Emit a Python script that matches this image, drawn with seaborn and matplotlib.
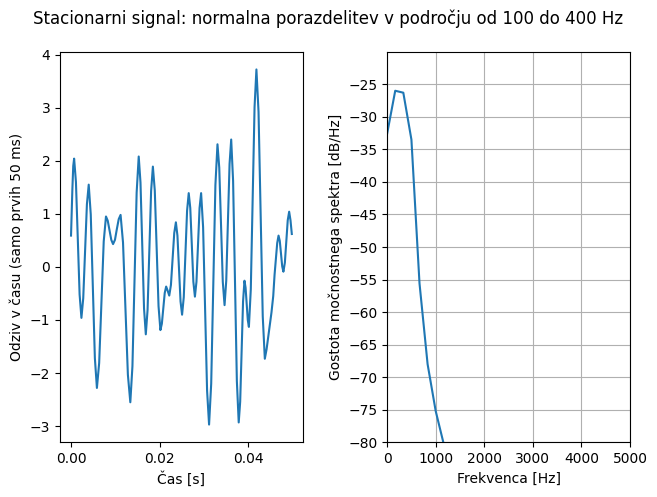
import matplotlib
matplotlib.use("Agg")
import matplotlib.pyplot as plt
import seaborn as sns
import numpy as np

# odziv v casu (prvih 50 ms), odcitano iz slike
cas_ms = [0.0, 0.3, 0.5, 0.7, 1.11, 1.53, 1.94, 2.35, 2.76, 3.18, 3.59, 4.0,
          4.46, 4.93, 5.39, 5.85, 6.36, 6.88, 7.39, 7.9, 8.3, 8.7, 9.1, 9.5,
          9.93, 10.35, 10.78, 11.2, 11.75, 12.3, 12.85, 13.4, 13.88, 14.35, 14.83, 15.3,
          15.7, 16.1, 16.5, 16.9, 17.3, 17.7, 18.1, 18.5, 18.93, 19.35, 19.78, 20.2,
          20.53, 20.85, 21.18, 21.5, 21.85, 22.2, 22.58, 22.95, 23.33, 23.7,
          24.05, 24.4, 24.75, 25.1, 25.48, 25.85, 26.23, 26.6, 26.95, 27.3, 27.65, 28.0,
          28.35, 28.7, 29.05, 29.4, 29.85, 30.3, 30.75, 31.2, 31.68, 32.15, 32.63, 33.1,
          33.5, 33.9, 34.3, 34.7, 35.08, 35.45, 35.83, 36.2, 36.63, 37.05, 37.48, 37.9,
          38.23, 38.55, 38.88, 39.2, 39.45, 39.7, 39.95, 40.2, 40.63, 41.05, 41.48, 41.9,
          42.38, 42.85, 43.33, 43.8, 44.2, 44.7, 45.3, 45.7, 46.0, 46.3, 46.6, 46.9,
          47.18, 47.45, 47.73, 48.0, 48.33, 48.65, 48.98, 49.3, 49.6, 49.9]
odziv = [0.59, 1.45, 1.9, 2.04, 1.60, 0.54, -0.52, -0.96, -0.59, 0.30, 1.18, 1.55,
         0.99, -0.37, -1.72, -2.28, -1.81, -0.67, 0.48, 0.95, 0.87, 0.69, 0.51, 0.43,
         0.51, 0.71, 0.90, 0.98, 0.46, -0.79, -2.03, -2.55, -1.87, -0.24, 1.40, 2.08,
         1.59, 0.41, -0.78, -1.27, -0.81, 0.31, 1.43, 1.89, 1.44, 0.35, -0.74, -1.19,
         -1.07, -0.78, -0.49, -0.37, -0.45, -0.54, -0.34, 0.15, 0.64, 0.84,
         0.59, -0.03, -0.65, -0.90, -0.57, 0.25, 1.06, 1.39, 1.11, 0.42, -0.28, -0.56,
         -0.28, 0.42, 1.11, 1.39, 0.75, -0.79, -2.33, -2.97, -2.20, -0.33, 1.54, 2.31,
         1.87, 0.80, -0.28, -0.72, -0.26, 0.84, 1.94, 2.40, 1.62, -0.27, -2.15, -2.93,
         -2.54, -1.60, -0.65, -0.26, -0.39, -0.70, -1.00, -1.13, -0.42, 1.30, 3.01, 3.72,
         2.92, 1.00, -0.93, -1.73, -1.55, -1.24, -0.86, -0.55, -0.15, 0.15, 0.45, 0.59,
         0.49, 0.25, 0.01, -0.09, 0.08, 0.48, 0.88, 1.04, 0.88, 0.62]

# gostota mocnostnega spektra
frekvenca = [0, 166.7, 333.3, 500, 666.7, 833.3, 1000, 1166.7, 1333.3]
psd_db = [-32.6, -26.0, -26.3, -33.5, -55.6, -68.0, -75.2, -80.3, -86.0]

t = np.array(cas_ms) / 1000

fig, (ax1, ax2) = plt.subplots(1, 2, figsize=(6.57, 4.97), dpi=100)
fig.subplots_adjust(left=0.0913, right=0.9589, top=0.896, bottom=0.110, wspace=0.347)
fig.suptitle("Stacionarni signal: normalna porazdelitev v področju od 100 do 400 Hz")

sns.lineplot(x=t, y=odziv, ax=ax1, color="C0", linewidth=1.5)
ax1.set_xlabel("Čas [s]")
ax1.set_ylabel("Odziv v času (samo prvih 50 ms)")

sns.lineplot(x=frekvenca, y=psd_db, ax=ax2, color="C0", linewidth=1.5)
ax2.set_xlim(0, 5000)
ax2.set_ylim(-80, -20)
ax2.set_yticks(np.arange(-80, -24, 5))
ax2.grid(True)
ax2.set_xlabel("Frekvenca [Hz]")
ax2.set_ylabel("Gostota močnostnega spektra [dB/Hz]")

fig.savefig("out.png", dpi=100)
